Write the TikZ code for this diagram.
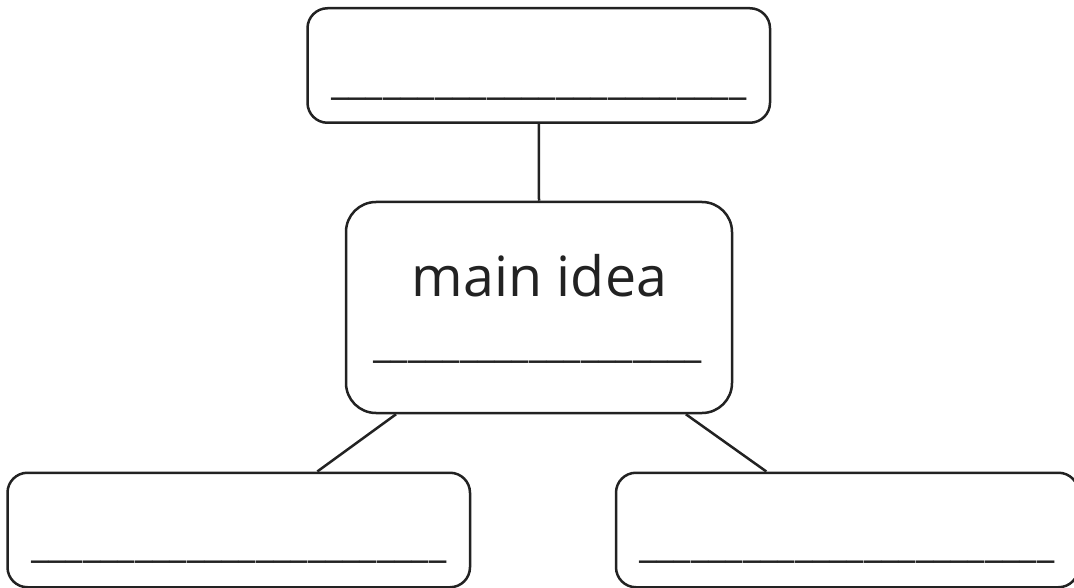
\documentclass[tikz,border=0pt]{standalone}
\usepackage{fontspec}
\setmainfont{Open Sans}
\usetikzlibrary{calc}
\definecolor{ink}{HTML}{222222}
\newcommand{\blankline}{\_\_\_\_\_\_\_\_\_\_\_\_\_\_\_\_\_\_\_\_\_\_\_\_}
\newcommand{\shortblank}{\_\_\_\_\_\_\_\_\_\_\_\_\_\_\_\_\_\_\_}
\begin{document}
\begin{tikzpicture}[x=1pt,y=-1pt,
  box/.style={draw=ink, line width=2.5pt, rounded corners=20pt, inner sep=0pt,
    minimum width=462.5pt, minimum height=114.5pt},
  blank/.style={font=\fontsize{38.6}{38.6}\selectfont, text=ink, inner sep=0pt, anchor=base},
  label/.style={font=\fontsize{55.5}{55.5}\selectfont, text=ink, inner sep=0pt, anchor=base},
  conn/.style={draw=ink, line width=2.5pt}]
\useasboundingbox (0,0) rectangle (1074,588);
\node[box] (top) at (538.75,65.5) {};
\node[box, minimum width=386pt, minimum height=211pt, rounded corners=30pt] (mid) at (539,307.5) {};
\node[box] (bl) at (238.75,530) {};
\node[box] (br) at (847.25,530) {};
\node[blank] (topline) at (539,94.5) {\blankline};
\node[blank] (midline) at (538,357.5) {\shortblank};
\node[blank] (blline) at (239,557.5) {\blankline};
\node[blank] (brline) at (847,557.5) {\blankline};
\node[label] (mainidea) at (539.5,296) {main idea};
\draw[conn] (top.south) -- (mid.north);
\draw[conn] ($(mid.south west)!0.132!(mid.south east)$) -- ($(bl.north west)!0.669!(bl.north east)$);
\draw[conn] ($(mid.south west)!0.878!(mid.south east)$) -- ($(br.north west)!0.326!(br.north east)$);
\end{tikzpicture}
\end{document}
